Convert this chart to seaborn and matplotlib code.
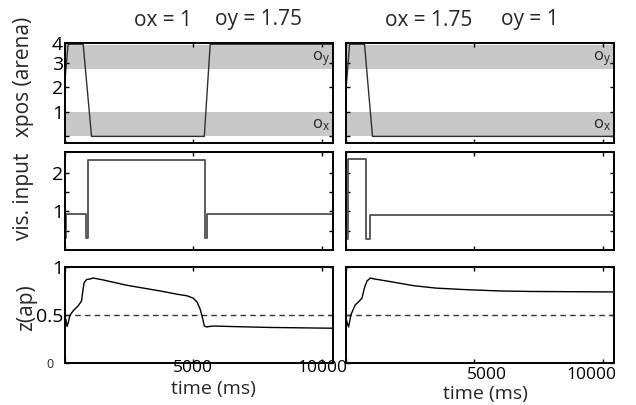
import numpy as np
import pandas as pd
import matplotlib
matplotlib.use("Agg")
import matplotlib.pyplot as plt
from matplotlib.transforms import ScaledTranslation
import seaborn as sns

# ---------------- data ----------------
# top row: x position in arena
xpos_left_t = [0, 140, 725, 1050, 5430, 5660, 10430]
xpos_left_v = [2.1, 3.77, 3.77, 0.0, 0.0, 3.77, 3.77]
xpos_right_t = [0, 140, 720, 1030, 10430]
xpos_right_v = [1.9, 3.77, 3.77, 0.0, 0.0]
ox_band = [0.0, 1.0]
oy_band = [2.75, 3.75]

# middle row: visual input (step signals)
vis_left_t = [0, 40, 40, 850, 850, 930, 930, 5470, 5470, 5550, 5550, 10430]
vis_left_v = [0.3, 0.3, 0.92, 0.92, 0.3, 0.3, 2.35, 2.35, 0.3, 0.3, 0.92, 0.92]
vis_right_t = [0, 60, 60, 790, 790, 950, 950, 10430]
vis_right_v = [0.28, 0.28, 2.36, 2.36, 0.28, 0.28, 0.9, 0.9]

# bottom row: z(ap)
z_left_t = [0, 50, 100, 150, 210, 340, 530, 660, 720, 760, 860, 990, 1115, 1500,
            2415, 3715, 4400, 4755, 5000, 5150, 5270, 5375, 5430, 5530, 5620,
            5790, 6440, 8000, 10430]
z_left_v = [0.49, 0.45, 0.375, 0.42, 0.49, 0.54, 0.59, 0.64, 0.76, 0.83, 0.865,
            0.87, 0.88, 0.86, 0.805, 0.745, 0.71, 0.695, 0.67, 0.63, 0.555, 0.45,
            0.38, 0.37, 0.375, 0.38, 0.375, 0.365, 0.357]
z_right_t = [0, 60, 100, 150, 195, 360, 520, 620, 720, 820, 950, 1100, 1340,
             2000, 2635, 3500, 4580, 6000, 7180, 10430]
z_right_v = [0.46, 0.40, 0.37, 0.44, 0.5, 0.6, 0.64, 0.67, 0.78, 0.85, 0.88,
             0.87, 0.86, 0.83, 0.80, 0.775, 0.76, 0.745, 0.74, 0.735]
z_threshold = 0.5

title_parts = [["ox = 1", "oy = 1.75"], ["ox = 1.75", "oy = 1"]]
ylabels = ["xpos (arena)", "vis. input", "z(ap)"]
xlabel = "time (ms)"
xtick_vals = [0, 5000, 10000]
xtick_labels = ["", "5000", "10000"]

# ---------------- style ----------------
sns.set_theme(style="ticks")
FONT = "Open Sans"
plt.rcParams["font.family"] = [FONT, "DejaVu Sans"]
plt.rcParams["mathtext.fontset"] = "custom"
plt.rcParams["mathtext.rm"] = FONT
plt.rcParams["mathtext.it"] = FONT
plt.rcParams["axes.linewidth"] = 1.4
plt.rcParams["axes.edgecolor"] = "black"
plt.rcParams["xtick.direction"] = "in"
plt.rcParams["ytick.direction"] = "in"

W, H = 636, 405
fig = plt.figure(figsize=(W / 100, H / 100), dpi=100)

def ax_at(x0, y0, x1, y1):
    return fig.add_axes([x0 / W, 1 - y1 / H, (x1 - x0) / W, (y1 - y0) / H])

cols = [(64.5, 333), (346, 614)]
rows = [(43, 142.5), (152, 250.5), (266.5, 362.5)]
XMAX = 10430

axes = [[ax_at(c[0], r[0], c[1], r[1]) for c in cols] for r in rows]

def style(ax):
    ax.set_xlim(0, XMAX)
    ax.set_xticks(xtick_vals)
    ax.set_xticklabels([])
    ax.tick_params(top=True, right=True, length=3, width=1.0, pad=1, colors="black")
    for s in ax.spines.values():
        s.set_visible(True)
        s.set_color("black")
    ax.set_xlabel("")
    ax.set_ylabel("")
    ax.grid(False)

# top row
for j, (t, v) in enumerate([(xpos_left_t, xpos_left_v), (xpos_right_t, xpos_right_v)]):
    ax = axes[0][j]
    ax.axhspan(ox_band[0], ox_band[1], color="#c8c8c8", lw=0, zorder=0)
    ax.axhspan(oy_band[0], oy_band[1], color="#c8c8c8", lw=0, zorder=0)
    sns.lineplot(x=t, y=v, ax=ax, color="#303030", lw=1.0, sort=False, estimator=None)
    style(ax)
    ax.set_ylim(-0.25, 3.82)
    ax.set_yticks([0, 1, 2, 3, 3.82])
    if j == 0:
        ax.set_yticklabels(["", "1", "2", "3", "4"], fontsize=14)
    else:
        ax.set_yticklabels([])
    tr = ax.get_yaxis_transform()
    ax.text(0.99, 3.2, r"$\mathrm{o}_\mathrm{y}$", transform=tr, ha="right", va="center", fontsize=12)
    ax.text(0.99, 0.45, r"$\mathrm{o}_\mathrm{x}$", transform=tr, ha="right", va="center", fontsize=12)

# middle row
for j, (t, v) in enumerate([(vis_left_t, vis_left_v), (vis_right_t, vis_right_v)]):
    ax = axes[1][j]
    sns.lineplot(x=t, y=v, ax=ax, color="#505050", lw=1.3, sort=False, estimator=None)
    style(ax)
    ax.set_ylim(-0.02, 2.55)
    ax.set_yticks([0.5, 1, 1.5, 2])
    if j == 0:
        ax.set_yticklabels(["", "1", "", "2"], fontsize=14)
    else:
        ax.set_yticklabels([])

# bottom row
for j, (t, v) in enumerate([(z_left_t, z_left_v), (z_right_t, z_right_v)]):
    ax = axes[2][j]
    ax.axhline(z_threshold, color="#333333", lw=1.0, ls=(0, (4, 3)))
    sns.lineplot(x=t, y=v, ax=ax, color="black", lw=1.0, sort=False, estimator=None)
    style(ax)
    ax.set_xticklabels(xtick_labels, fontsize=12.5)
    ax.set_ylim(0, 1)
    ax.set_yticks([0, 0.5, 1])
    if j == 0:
        ax.set_yticklabels(["", "0.5", "1"], fontsize=14)
        ax.tick_params(axis="x", pad=-1.5)
    else:
        ax.set_yticklabels([])
        ax.tick_params(axis="x", pad=3)
        labs = ax.get_xticklabels()
        offs = [0, 12, -12]
        for lab, dx in zip(labs, offs):
            lab.set_transform(lab.get_transform() + ScaledTranslation(dx / 100, 0, fig.dpi_scale_trans))

# small "0" label
fig.text(49.5 / W, 1 - 365 / H, "0", fontsize=9, ha="center", va="center")

# titles
fig.text(162.5 / W, 1 - 20 / H, title_parts[0][0], fontsize=15, ha="center", va="center")
fig.text(258.5 / W, 1 - 20 / H, title_parts[0][1], fontsize=15, ha="center", va="center")
fig.text(428.5 / W, 1 - 20 / H, title_parts[1][0], fontsize=15, ha="center", va="center")
fig.text(529.5 / W, 1 - 20 / H, title_parts[1][1], fontsize=15, ha="center", va="center")

# y labels
fig.text(24 / W, 1 - 77 / H, ylabels[0], fontsize=15, rotation=90, ha="center", va="center")
fig.text(24 / W, 1 - 196 / H, ylabels[1], fontsize=15, rotation=90, ha="center", va="center")
fig.text(27 / W, 1 - 308 / H, ylabels[2], fontsize=15, rotation=90, ha="center", va="center")

# x labels
fig.text(213 / W, 1 - 389 / H, xlabel, fontsize=14, ha="center", va="center")
fig.text(485 / W, 1 - 394 / H, xlabel, fontsize=14, ha="center", va="center")

fig.savefig("out.png", dpi=100)
